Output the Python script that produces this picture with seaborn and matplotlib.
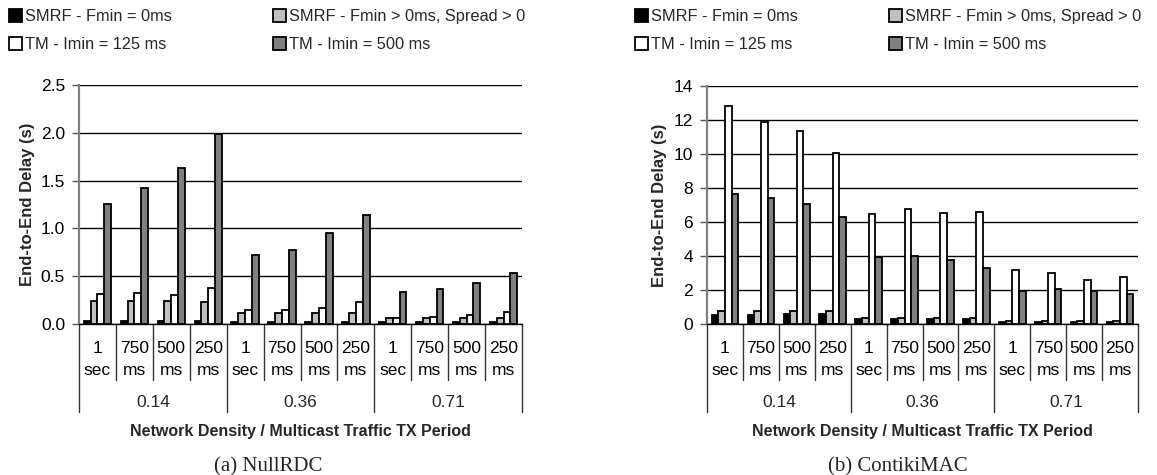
import numpy as np
import pandas as pd
import matplotlib
matplotlib.use("Agg")
import matplotlib.pyplot as plt
import matplotlib.transforms as mtransforms
import seaborn as sns

# ---------------- data ----------------
series = ["SMRF - Fmin = 0ms", "SMRF - Fmin > 0ms, Spread > 0",
          "TM - Imin = 125 ms", "TM - Imin = 500 ms"]
densities = ["0.14", "0.36", "0.71"]
periods = ["1\nsec", "750\nms", "500\nms", "250\nms"]

# (a) NullRDC
null_smrf0 = [0.03, 0.03, 0.03, 0.03, 0.02, 0.02, 0.02, 0.02, 0.02, 0.02, 0.02, 0.02]
null_smrf_spread = [0.24, 0.24, 0.24, 0.23, 0.11, 0.11, 0.11, 0.11, 0.06, 0.06, 0.06, 0.06]
null_tm125 = [0.31, 0.32, 0.30, 0.38, 0.15, 0.15, 0.17, 0.23, 0.06, 0.07, 0.09, 0.13]
null_tm500 = [1.26, 1.42, 1.63, 1.99, 0.72, 0.77, 0.95, 1.14, 0.33, 0.37, 0.43, 0.53]

# (b) ContikiMAC
cmac_smrf0 = [0.55, 0.51, 0.59, 0.59, 0.27, 0.27, 0.27, 0.29, 0.14, 0.14, 0.12, 0.14]
cmac_smrf_spread = [0.74, 0.74, 0.78, 0.78, 0.35, 0.33, 0.33, 0.33, 0.18, 0.18, 0.18, 0.18]
cmac_tm125 = [12.85, 11.90, 11.38, 10.05, 6.46, 6.78, 6.52, 6.58, 3.17, 3.02, 2.58, 2.78]
cmac_tm500 = [7.64, 7.40, 7.05, 6.27, 3.94, 4.00, 3.74, 3.27, 1.96, 2.04, 1.96, 1.74]

colors = ["#000000", "#c0c0c0", "#ffffff", "#808080"]

slot_keys = [f"{d}|{p}" for d in densities for p in periods]
slot_labels = [p for d in densities for p in periods]

# ---------------- style ----------------
sns.set_theme(style="white")
plt.rcParams["font.family"] = ["Liberation Sans", "DejaVu Sans"]

W, H = 1157, 475
fig = plt.figure(figsize=(W / 100, H / 100), dpi=100)


def px_axes(l, t, r, b):
    return fig.add_axes([l / W, 1 - b / H, (r - l) / W, (b - t) / H])


def draw(ax, values, ymax, ystep, fmt, ylab_x, leg_x, col_sp, caption, cap_x, ax_h):
    rows = []
    for s, vals in zip(series, values):
        for k, v in enumerate(vals):
            rows.append({"slot": slot_keys[k], "series": s, "delay": v})
    df = pd.DataFrame(rows)
    sns.barplot(data=df, x="slot", y="delay", hue="series", order=slot_keys,
                hue_order=series, palette=colors, saturation=1,
                edgecolor="black", linewidth=1.3, width=0.74, ax=ax)

    ax.set_xlim(-0.5, 11.5)
    ax.set_ylim(0, ymax)
    ticks = np.arange(0, ymax + 1e-9, ystep)
    ax.set_yticks(ticks)
    ax.set_yticklabels([fmt.format(t) for t in ticks], fontsize=12.5)
    ax.tick_params(axis="y", length=5, width=1, color="#555555", pad=5, left=True,
                   labelcolor="black")
    ax.set_axisbelow(True)
    ax.yaxis.grid(True, color="black", linewidth=1)
    ax.xaxis.grid(False)
    for side in ("top", "right"):
        ax.spines[side].set_visible(False)
    ax.spines["left"].set_color("#808080")
    ax.spines["left"].set_linewidth(1.6)
    ax.spines["bottom"].set_color("black")
    ax.spines["bottom"].set_linewidth(1.0)

    ax.set_xticks(range(len(slot_keys)))
    ax.set_xticklabels(slot_labels, fontsize=12.5, linespacing=1.6)
    ax.tick_params(axis="x", length=0, pad=12, labelcolor="black")

    trans = mtransforms.blended_transform_factory(ax.transData, ax.transAxes)
    for k in range(len(slot_keys) + 1):
        x = k - 0.5
        yb = -(412 - 324) / ax_h if k % 4 == 0 else -(380 - 324) / ax_h
        ax.plot([x, x], [0, yb], transform=trans, color="#333333", lw=1.0,
                clip_on=False)
    for i, d in enumerate(densities):
        ax.text(4 * i + 1.5, -(402 - 324) / ax_h, d, transform=trans,
                ha="center", va="center", fontsize=12.5)

    ax.set_xlabel("Network Density / Multicast Traffic TX Period",
                  fontsize=11.5, fontweight="bold")
    ax.xaxis.set_label_coords(0.5, -(424 - 324) / ax_h)
    ax.set_ylabel("End-to-End Delay (s)", fontsize=12, fontweight="bold")
    ax.yaxis.set_label_coords(ylab_x, 0.5)

    leg = ax.get_legend()
    handles = list(leg.legend_handles)
    labels = [t.get_text() for t in leg.get_texts()]
    leg.remove()
    for h in handles:
        h.set_edgecolor("black")
        h.set_linewidth(1.3)
    order = [0, 2, 1, 3]
    fig.legend([handles[i] for i in order], [labels[i] for i in order],
               loc="upper left", bbox_to_anchor=(leg_x / W, 1 - 9 / H),
               ncol=2, frameon=False, fontsize=11.8, handlelength=0.8,
               handleheight=0.8, handletextpad=0.15, columnspacing=col_sp,
               labelspacing=0.8, borderpad=0, borderaxespad=0)

    fig.text(cap_x / W, 1 - 471 / H, caption, ha="center", va="baseline",
             fontsize=15, family=["Liberation Serif", "DejaVu Serif"])


ax1 = px_axes(79, 85, 522, 324)
ax2 = px_axes(707, 86, 1138, 324)

draw(ax1, [null_smrf0, null_smrf_spread, null_tm125, null_tm500],
     2.5, 0.5, "{:.1f}", -0.099, 9, 6.2, "(a) NullRDC", 268, 239)
draw(ax2, [cmac_smrf0, cmac_smrf_spread, cmac_tm125, cmac_tm500],
     14, 2, "{:.0f}", -0.093, 635, 5.6, "(b) ContikiMAC", 898, 238)

fig.savefig("out.png", dpi=100)
